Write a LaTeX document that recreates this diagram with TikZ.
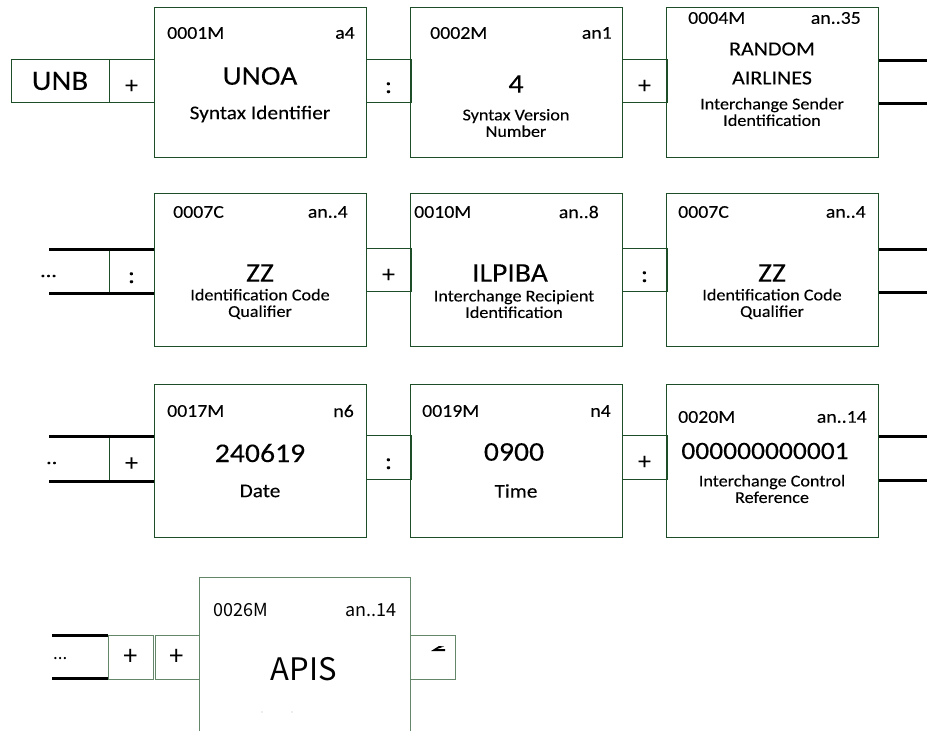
\documentclass[tikz,border=0pt]{standalone}
\usepackage{fontspec}
\setmainfont{Carlito}[FakeStretch=1.1, FakeBold=0.1]
\newfontfamily\gothic{Noto Sans CJK JP}
\usetikzlibrary{positioning}
\definecolor{edgegreen}{RGB}{30,78,40}
\definecolor{palegreen}{RGB}{100,135,105}

\begin{document}
\begin{tikzpicture}[x=1pt, y=-1pt,
    field/.style={rectangle, draw=edgegreen, line width=0.9pt, minimum width=212pt, minimum height=153pt, inner sep=0pt},
    sep/.style={rectangle, draw=edgegreen, line width=0.9pt, minimum width=45pt, minimum height=43pt, inner sep=0pt, text height=24pt, text depth=0pt, font=\fontsize{24}{24}\selectfont},
    code/.style={anchor=west, inner sep=0pt, font=\fontsize{18}{18}\selectfont},
    dtype/.style={anchor=east, inner sep=0pt, font=\fontsize{18}{18}\selectfont},
    value/.style={inner sep=0pt, font=\fontsize{27}{27}\selectfont},
    desc/.style={inner sep=0pt, align=center, font=\fontsize{16.5}{16.5}\selectfont},
    bus/.style={line width=3pt, black}]
    \clip (0,0) rectangle (927,731);

    % row 1
    \node[sep, minimum width=98pt, text height=, text depth=, font=\fontsize{28}{28}\selectfont] (unb) at (60,81) {UNB};
    \node[sep] (s1) at (131.5,81) {+};
    \node[field, minimum height=150pt] (f1) at (260,82) {};
    \node[code] (c1) at (167,33) {0001M};
    \node[dtype] (t1) at (355,33) {a4};
    \node[value] (v1) at (260,76) {UNOA};
    \node[desc, font=\fontsize{19.4}{19.4}\selectfont] (d1) at (260,114) {Syntax Identifier};
    \node[sep] (s2) at (388.5,81) {:};
    \node[field, minimum height=150pt] (f2) at (516.5,82) {};
    \node[code] (c2) at (430,33) {0002M};
    \node[dtype] (t2) at (612,33) {an1};
    \node[value] (v2) at (516,84) {4};
    \node[desc] (d2) at (516,123) {Syntax Version\\Number};
    \node[sep] (s3) at (644.5,81) {+};
    \node[field, minimum height=150pt] (f3) at (772.5,82) {};
    \node[code] (c3) at (688,18) {0004M};
    \node[dtype] (t3) at (861,18) {an..35};
    \node[value, font=\fontsize{20}{20}\selectfont] (v3a) at (772,49) {RANDOM};
    \node[value, font=\fontsize{20}{20}\selectfont] (v3b) at (772,78) {AIRLINES};
    \node[desc] (d3) at (772,112) {Interchange Sender\\Identification};
    \coordinate (r1t) at (927,60);
    \coordinate (r1b) at (927,103);
    \draw[bus] (f3.east |- r1t) -- (r1t);
    \draw[bus] (f3.east |- r1b) -- (r1b);

    % row 2
    \node[value, font=\fontsize{20}{20}\selectfont, anchor=west] (m2) at (40,276) {...};
    \node[sep, minimum height=44pt] (s4) at (131.5,271) {:};
    \node[field] (f4) at (260,270) {};
    \node[code] (c4) at (173,212) {0007C};
    \node[dtype] (t4) at (348,212) {an..4};
    \node[value] (v4) at (260,273) {ZZ};
    \node[desc] (d4) at (260,304) {Identification Code\\Qualifier};
    \node[sep] (s5) at (388.5,270) {+};
    \node[field] (f5) at (516.5,270) {};
    \node[code] (c5) at (414,212) {0010M};
    \node[dtype] (t5) at (599,212) {an..8};
    \node[value] (v5) at (510,273) {ILPIBA};
    \node[desc] (d5) at (514,304) {Interchange Recipient\\Identification};
    \node[sep] (s6) at (644.5,270) {:};
    \node[field] (f6) at (772.5,270) {};
    \node[code] (c6) at (678,212) {0007C};
    \node[dtype] (t6) at (866,212) {an..4};
    \node[value] (v6) at (772,273) {ZZ};
    \node[desc] (d6) at (772,304) {Identification Code\\Qualifier};
    \coordinate (l2t) at (49,249);
    \coordinate (l2b) at (49,293);
    \draw[bus] (l2t) -- (l2t -| f4.west);
    \draw[bus] (l2b) -- (l2b -| f4.west);
    \coordinate (r2t) at (927,249);
    \coordinate (r2b) at (927,292);
    \draw[bus] (f6.east |- r2t) -- (r2t);
    \draw[bus] (f6.east |- r2b) -- (r2b);

    % row 3
    \node[value, font=\fontsize{20}{20}\selectfont, anchor=west] (m3) at (46,463) {..};
    \node[sep, minimum height=45pt] (s7) at (131.5,458.5) {+};
    \node[field] (f7) at (260,460.5) {};
    \node[code] (c7) at (167,411) {0017M};
    \node[dtype] (t7) at (354,411) {n6};
    \node[value] (v7) at (260,453) {240619};
    \node[desc, font=\fontsize{19.4}{19.4}\selectfont] (d7) at (260,491) {Date};
    \node[sep, minimum height=44pt] (s8) at (388.5,457) {:};
    \node[field] (f8) at (516.5,460.5) {};
    \node[code] (c8) at (422,411) {0019M};
    \node[dtype] (t8) at (611,411) {n4};
    \node[value] (v8) at (514,452) {0900};
    \node[desc, font=\fontsize{19.4}{19.4}\selectfont] (d8) at (516,491) {Time};
    \node[sep, minimum height=44pt] (s9) at (644.5,457) {+};
    \node[field] (f9) at (772.5,460.5) {};
    \node[code] (c9) at (678,417) {0020M};
    \node[dtype] (t9) at (867,417) {an..14};
    \node[value, font=\fontsize{25}{25}\selectfont] (v9) at (765,451) {000000000001};
    \node[desc] (d9) at (772,489) {Interchange Control\\Reference};
    \coordinate (l3t) at (49,436);
    \coordinate (l3b) at (49,481);
    \draw[bus] (l3t) -- (l3t -| f7.west);
    \draw[bus] (l3b) -- (l3b -| f7.west);
    \coordinate (r3t) at (927,436);
    \coordinate (r3b) at (927,480);
    \draw[bus] (f9.east |- r3t) -- (r3t);
    \draw[bus] (f9.east |- r3b) -- (r3b);

    % row 4
    \node[value, font=\gothic\fontsize{17}{17}\selectfont, anchor=west] (m4) at (53,659) {...};
    \node[sep, draw=palegreen, minimum height=44pt, text height=, text depth=, font=\gothic\fontsize{26}{26}\selectfont] (s10) at (130.5,657) {+};
    \node[sep, draw=palegreen, minimum width=44pt, minimum height=44pt, text height=, text depth=, font=\gothic\fontsize{26}{26}\selectfont] (s11) at (177,657) {+};
    \node[field, draw=palegreen, minimum width=211pt, minimum height=200pt] (f10) at (304.5,677) {};
    \node[code, font=\gothic\fontsize{18}{18}\selectfont] (c10) at (213,610) {0026M};
    \node[dtype, font=\gothic\fontsize{18}{18}\selectfont] (t10) at (397,610) {an..14};
    \node[value, font=\gothic\fontsize{31}{31}\selectfont] (v10) at (304,669) {APIS};
    \fill[gray!60] (262,712) circle (0.7);
    \fill[gray!60] (292,712) circle (0.7);
    \node[sep, draw=palegreen, minimum height=44pt] (s12) at (432.5,657) {};
    \fill (431,651) -- (439,646) -- (444,646.5) -- (437,649) -- (445,649) -- (445,651) -- cycle;
    \coordinate (l4t) at (52,635);
    \coordinate (l4b) at (52,678);
    \draw[bus] (l4t) -- (l4t -| s10.west);
    \draw[bus] (l4b) -- (l4b -| s10.west);
\end{tikzpicture}
\end{document}
